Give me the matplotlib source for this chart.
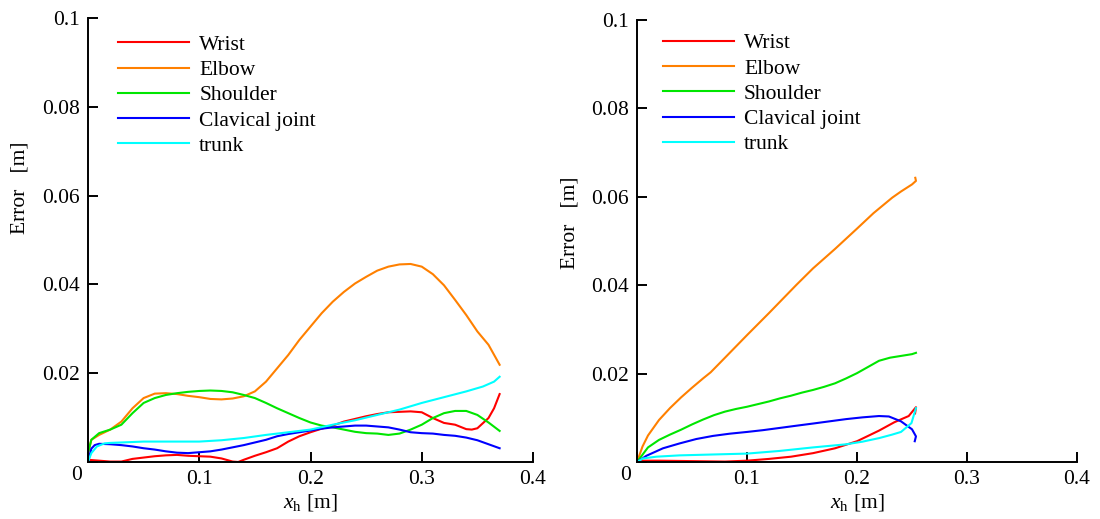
import matplotlib
matplotlib.use("Agg")
import matplotlib.pyplot as plt
import matplotlib.transforms as mtransforms

plt.rcParams["font.family"] = ["Liberation Serif", "DejaVu Sans"]
plt.rcParams["mathtext.fontset"] = "custom"
plt.rcParams["mathtext.rm"] = "Liberation Serif"
plt.rcParams["mathtext.it"] = "Liberation Serif:italic"

labels = ["Wrist", "Elbow", "Shoulder", "Clavical joint", "trunk"]
colors = ["#ff0000", "#ff8000", "#00e600", "#0000ff", "#00ffff"]

# ---- left panel ----
l_wrist_x = [0.0, 0.01, 0.02, 0.03, 0.04, 0.05, 0.06, 0.07, 0.08, 0.09, 0.10, 0.11, 0.12, 0.13, 0.135,
             0.14, 0.15, 0.16, 0.17, 0.18, 0.19, 0.20, 0.21, 0.22, 0.23, 0.24, 0.25, 0.26, 0.27, 0.28,
             0.29, 0.30, 0.31, 0.32, 0.33, 0.34, 0.345, 0.35, 0.36, 0.365, 0.37]
l_wrist_y = [0.0005, 0.0003, 0.0001, 0.0001, 0.0007, 0.0010, 0.0013, 0.0015, 0.0016, 0.0014, 0.0013,
             0.0012, 0.0008, 0.0001, 0.0000, 0.0005, 0.0014, 0.0022, 0.0031, 0.0046, 0.0058, 0.0067,
             0.0075, 0.0082, 0.0091, 0.0097, 0.0103, 0.0108, 0.0112, 0.0113, 0.0114, 0.0112, 0.0099,
             0.0088, 0.0084, 0.0074, 0.0073, 0.0076, 0.0099, 0.0121, 0.0153]

l_elbow_x = [0.0, 0.003, 0.01, 0.02, 0.03, 0.04, 0.05, 0.06, 0.07, 0.08, 0.09, 0.10, 0.11, 0.12,
             0.13, 0.14, 0.15, 0.16, 0.17, 0.18, 0.19, 0.20, 0.21, 0.22, 0.23, 0.24, 0.25, 0.26,
             0.27, 0.28, 0.29, 0.30, 0.31, 0.32, 0.33, 0.34, 0.35, 0.36, 0.37]
l_elbow_y = [0.0020, 0.0050, 0.0061, 0.0073, 0.0091, 0.0121, 0.0144, 0.0154, 0.0155, 0.0153, 0.0149,
             0.0146, 0.0142, 0.0141, 0.0143, 0.0148, 0.0159, 0.0181, 0.0211, 0.0241, 0.0275, 0.0305,
             0.0335, 0.0361, 0.0383, 0.0402, 0.0417, 0.0431, 0.0440, 0.0445, 0.0446, 0.0440, 0.0423,
             0.0398, 0.0365, 0.0331, 0.0294, 0.0264, 0.0219]

l_shoulder_x = [0.0, 0.003, 0.01, 0.02, 0.03, 0.04, 0.05, 0.06, 0.07, 0.08, 0.09, 0.10, 0.11, 0.12,
                0.13, 0.14, 0.15, 0.16, 0.17, 0.18, 0.19, 0.20, 0.21, 0.22, 0.23, 0.24, 0.25, 0.26,
                0.27, 0.28, 0.29, 0.30, 0.31, 0.32, 0.33, 0.34, 0.35, 0.36, 0.37]
l_shoulder_y = [0.0020, 0.0050, 0.0065, 0.0073, 0.0084, 0.0110, 0.0133, 0.0144, 0.0151, 0.0155, 0.0158,
                0.0160, 0.0161, 0.0160, 0.0157, 0.0151, 0.0144, 0.0133, 0.0121, 0.0110, 0.0099, 0.0089,
                0.0082, 0.0078, 0.0073, 0.0068, 0.0065, 0.0064, 0.0061, 0.0064, 0.0073, 0.0084, 0.0099,
                0.0110, 0.0115, 0.0115, 0.0106, 0.0089, 0.0070]

l_clav_x = [0.0, 0.003, 0.006, 0.01, 0.02, 0.03, 0.04, 0.05, 0.06, 0.07, 0.08, 0.09, 0.10, 0.11, 0.12,
            0.13, 0.14, 0.15, 0.16, 0.17, 0.18, 0.19, 0.20, 0.21, 0.22, 0.23, 0.24, 0.25, 0.26, 0.27,
            0.28, 0.29, 0.30, 0.31, 0.32, 0.33, 0.34, 0.35, 0.36, 0.37]
l_clav_y = [0.0000, 0.0030, 0.0038, 0.0041, 0.0040, 0.0038, 0.0035, 0.0031, 0.0028, 0.0024, 0.0021,
            0.0020, 0.0022, 0.0024, 0.0028, 0.0033, 0.0038, 0.0044, 0.0050, 0.0058, 0.0063, 0.0067,
            0.0071, 0.0075, 0.0078, 0.0080, 0.0082, 0.0082, 0.0080, 0.0078, 0.0073, 0.0067, 0.0065,
            0.0064, 0.0061, 0.0059, 0.0055, 0.0049, 0.0040, 0.0031]

l_trunk_x = [0.0, 0.003, 0.008, 0.015, 0.02, 0.03, 0.05, 0.10, 0.12, 0.14, 0.16, 0.18, 0.20, 0.22,
             0.24, 0.26, 0.28, 0.30, 0.32, 0.34, 0.355, 0.365, 0.37]
l_trunk_y = [0.0000, 0.0020, 0.0035, 0.0042, 0.0043, 0.0044, 0.0046, 0.0046, 0.0049, 0.0054, 0.0061,
             0.0067, 0.0073, 0.0084, 0.0094, 0.0106, 0.0118, 0.0133, 0.0146, 0.0159, 0.0170, 0.0181,
             0.0192]

# ---- right panel ----
r_wrist_x = [0.0, 0.02, 0.05, 0.08, 0.10, 0.12, 0.14, 0.16, 0.18, 0.20, 0.22, 0.234, 0.247, 0.2536,
             0.2528]
r_wrist_y = [0.0003, 0.0003, 0.0002, 0.0001, 0.0003, 0.0007, 0.0012, 0.0020, 0.0031, 0.0047, 0.0071,
             0.0090, 0.0104, 0.0124, 0.0110]

r_elbow_x = [0.0, 0.005, 0.01, 0.02, 0.03, 0.04, 0.05, 0.06, 0.067, 0.08, 0.10, 0.12, 0.145, 0.16,
             0.18, 0.20, 0.215, 0.232, 0.24, 0.25, 0.2536, 0.2530]
r_elbow_y = [0.0000, 0.0035, 0.0060, 0.0095, 0.0122, 0.0146, 0.0168, 0.0189, 0.0203, 0.0236, 0.0287,
             0.0337, 0.0401, 0.0438, 0.0482, 0.0528, 0.0563, 0.0598, 0.0612, 0.0628, 0.0636, 0.0643]

r_shoulder_x = [0.0, 0.01, 0.02, 0.03, 0.04, 0.05, 0.06, 0.07, 0.08, 0.09, 0.10, 0.11, 0.12, 0.13,
                0.14, 0.15, 0.16, 0.17, 0.18, 0.19, 0.20, 0.21, 0.22, 0.23, 0.24, 0.25, 0.2536]
r_shoulder_y = [0.0000, 0.0033, 0.0050, 0.0062, 0.0073, 0.0085, 0.0096, 0.0106, 0.0114, 0.0120, 0.0125,
                0.0131, 0.0137, 0.0144, 0.0150, 0.0157, 0.0163, 0.0170, 0.0178, 0.0189, 0.0201, 0.0215,
                0.0229, 0.0236, 0.0240, 0.0244, 0.0247]

r_clav_x = [0.0, 0.0085, 0.0236, 0.0387, 0.0539, 0.069, 0.0841, 0.10, 0.1144, 0.1295, 0.1446, 0.16,
            0.175, 0.19, 0.205, 0.22, 0.229, 0.24, 0.25, 0.2536, 0.2525]
r_clav_y = [0.0000, 0.0014, 0.0031, 0.0042, 0.0052, 0.0059, 0.0064, 0.0068, 0.0072, 0.0077, 0.0082,
            0.0087, 0.0092, 0.0097, 0.0101, 0.0104, 0.0103, 0.0092, 0.0074, 0.0058, 0.0047]

r_trunk_x = [0.0, 0.0054, 0.0175, 0.0387, 0.069, 0.10, 0.1295, 0.16, 0.19, 0.205, 0.22, 0.232, 0.24,
             0.2495, 0.2536]
r_trunk_y = [0.0000, 0.0008, 0.0012, 0.0015, 0.0017, 0.0019, 0.0025, 0.0033, 0.0040, 0.0046, 0.0054,
             0.0062, 0.0068, 0.0088, 0.0122]

panels = [
    ([l_wrist_x, l_elbow_x, l_shoulder_x, l_clav_x, l_trunk_x],
     [l_wrist_y, l_elbow_y, l_shoulder_y, l_clav_y, l_trunk_y]),
    ([r_wrist_x, r_elbow_x, r_shoulder_x, r_clav_x, r_trunk_x],
     [r_wrist_y, r_elbow_y, r_shoulder_y, r_clav_y, r_trunk_y]),
]

x_ticks = [0.0, 0.1, 0.2, 0.3, 0.4]
x_ticklabels = ["", "0.1", "0.2", "0.3", "0.4"]
y_ticks = [0.0, 0.02, 0.04, 0.06, 0.08, 0.1]
y_ticklabels = ["", "0.02", "0.04", "0.06", "0.08", "0.1"]

FS = 15.5

fig = plt.figure(figsize=(11.0, 5.19), dpi=100)
axes_rects = [
    [88 / 1100, 1 - 462 / 519, 445 / 1100, 444 / 519],
    [637 / 1100, 1 - 462 / 519, 440 / 1100, 442 / 519],
]
ylabel_y = [0.617, 0.541]
legend_anchor = [(0.0675, 0.962), (0.059, 0.97)]

for rect, (xs, ys), ly, lanchor in zip(axes_rects, panels, ylabel_y, legend_anchor):
    ax = fig.add_axes(rect)
    for x, y, c, lab in zip(xs, ys, colors, labels):
        ax.plot(x, y, color=c, lw=1.5, label=lab, solid_joinstyle="round")
    ax.set_xlim(0, 0.4)
    ax.set_ylim(0, 0.1)
    for s in ("top", "right"):
        ax.spines[s].set_visible(False)
    for s in ("left", "bottom"):
        ax.spines[s].set_linewidth(1.4)
    ax.set_xticks(x_ticks)
    ax.set_xticklabels(x_ticklabels)
    ax.set_yticks(y_ticks)
    ax.set_yticklabels(y_ticklabels)
    ax.tick_params(direction="in", length=7.5, width=1.4, labelsize=FS, pad=6)
    ax.text(0, 0, "0",
            transform=ax.transAxes + mtransforms.ScaledTranslation(-11 / 100, -14 / 100, fig.dpi_scale_trans),
            ha="center", va="center", fontsize=FS)
    ax.set_xlabel(r"$x_{\mathrm{h}}$ [m]", fontsize=FS, labelpad=2)
    ax.set_ylabel("Error   [m]", fontsize=FS, va="center")
    ax.yaxis.set_label_coords(-0.153, ly)
    ax.legend(loc="upper left", bbox_to_anchor=lanchor, frameon=False, fontsize=FS,
              handlelength=3.3, handletextpad=0.47, labelspacing=0.24, borderpad=0, borderaxespad=0)

fig.savefig("out.png", dpi=100)
